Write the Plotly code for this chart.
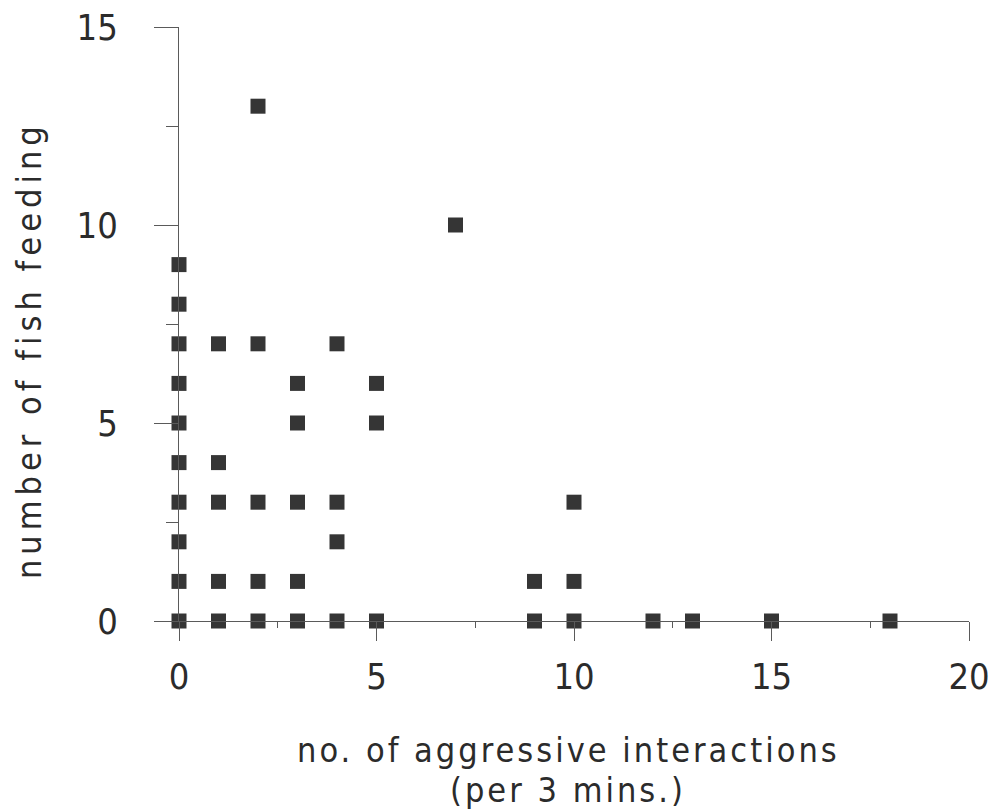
import plotly.graph_objects as go

# aggressive interactions per 3 minutes (x) vs number of fish feeding (y)
interactions = [0, 0, 0, 0, 0, 0, 0, 0, 0, 0,
                1, 1, 1, 1, 1,
                2, 2, 2, 2, 2,
                3, 3, 3, 3, 3,
                4, 4, 4, 4,
                5, 5, 5,
                7,
                9, 9,
                10, 10, 10,
                12, 13, 15, 18]
fish_feeding = [0, 1, 2, 3, 4, 5, 6, 7, 8, 9,
                0, 1, 3, 4, 7,
                0, 1, 3, 7, 13,
                0, 1, 3, 5, 6,
                0, 2, 3, 7,
                0, 5, 6,
                10,
                0, 1,
                0, 1, 3,
                0, 0, 0, 0]

x_ticks = [0, 5, 10, 15, 20]
y_ticks = [0, 5, 10, 15]

FONT = "DejaVu Sans Condensed, Liberation Sans Narrow, Liberation Sans, sans-serif"
INK = "#2b2b2b"
AXIS = "#5a5a5a"

fig = go.Figure()
fig.add_trace(go.Scatter(
    x=interactions, y=fish_feeding, mode="markers",
    marker=dict(symbol="square", size=15, color="#353535", line=dict(width=0)),
    cliponaxis=False, hoverinfo="x+y",
))

fig.update_layout(
    width=993, height=812,
    margin=dict(l=179, r=24, t=27, b=191),
    paper_bgcolor="white", plot_bgcolor="white",
    showlegend=False,
    font=dict(family=FONT, color=INK, size=36),
    xaxis=dict(
        range=[0, 20], tickvals=x_ticks, showgrid=False, zeroline=False,
        showline=True, linecolor=AXIS, linewidth=1, automargin=False,
        ticks="outside", ticklen=19, tickcolor=AXIS, tickwidth=1,
        minor=dict(dtick=2.5, ticks="outside", ticklen=6, tickcolor=AXIS, showgrid=False),
        tickfont=dict(size=36, family=FONT, color=INK),
        ticklabelstandoff=5,
    ),
    yaxis=dict(
        range=[0, 15], tickvals=y_ticks, showgrid=False, zeroline=False,
        showline=True, linecolor=AXIS, linewidth=1, automargin=False,
        ticks="outside", ticklen=24, tickcolor=AXIS, tickwidth=1,
        minor=dict(dtick=2.5, ticks="outside", ticklen=12, tickcolor=AXIS, showgrid=False),
        tickfont=dict(size=36, family=FONT, color=INK),
        ticklabelstandoff=29,
    ),
)

x_spaced = '<span style="letter-spacing:3px">{}</span>'
y_spaced = '<span style="letter-spacing:5px">{}</span>'
fig.add_annotation(
    text=x_spaced.format("no. of aggressive interactions"),
    xref="paper", yref="paper", x=0.493, y=-0.217, xanchor="center", yanchor="middle",
    showarrow=False, font=dict(size=34, family=FONT, color=INK),
)
fig.add_annotation(
    text=x_spaced.format("(per 3 mins.)"),
    xref="paper", yref="paper", x=0.493, y=-0.285, xanchor="center", yanchor="middle",
    showarrow=False, font=dict(size=34, family=FONT, color=INK),
)
fig.add_annotation(
    text=y_spaced.format("number of fish feeding"),
    xref="paper", yref="paper", x=-0.19, y=0.456, xanchor="center", yanchor="middle",
    textangle=-90, showarrow=False, font=dict(size=34, family=FONT, color=INK),
)

fig.write_html("out.html")
